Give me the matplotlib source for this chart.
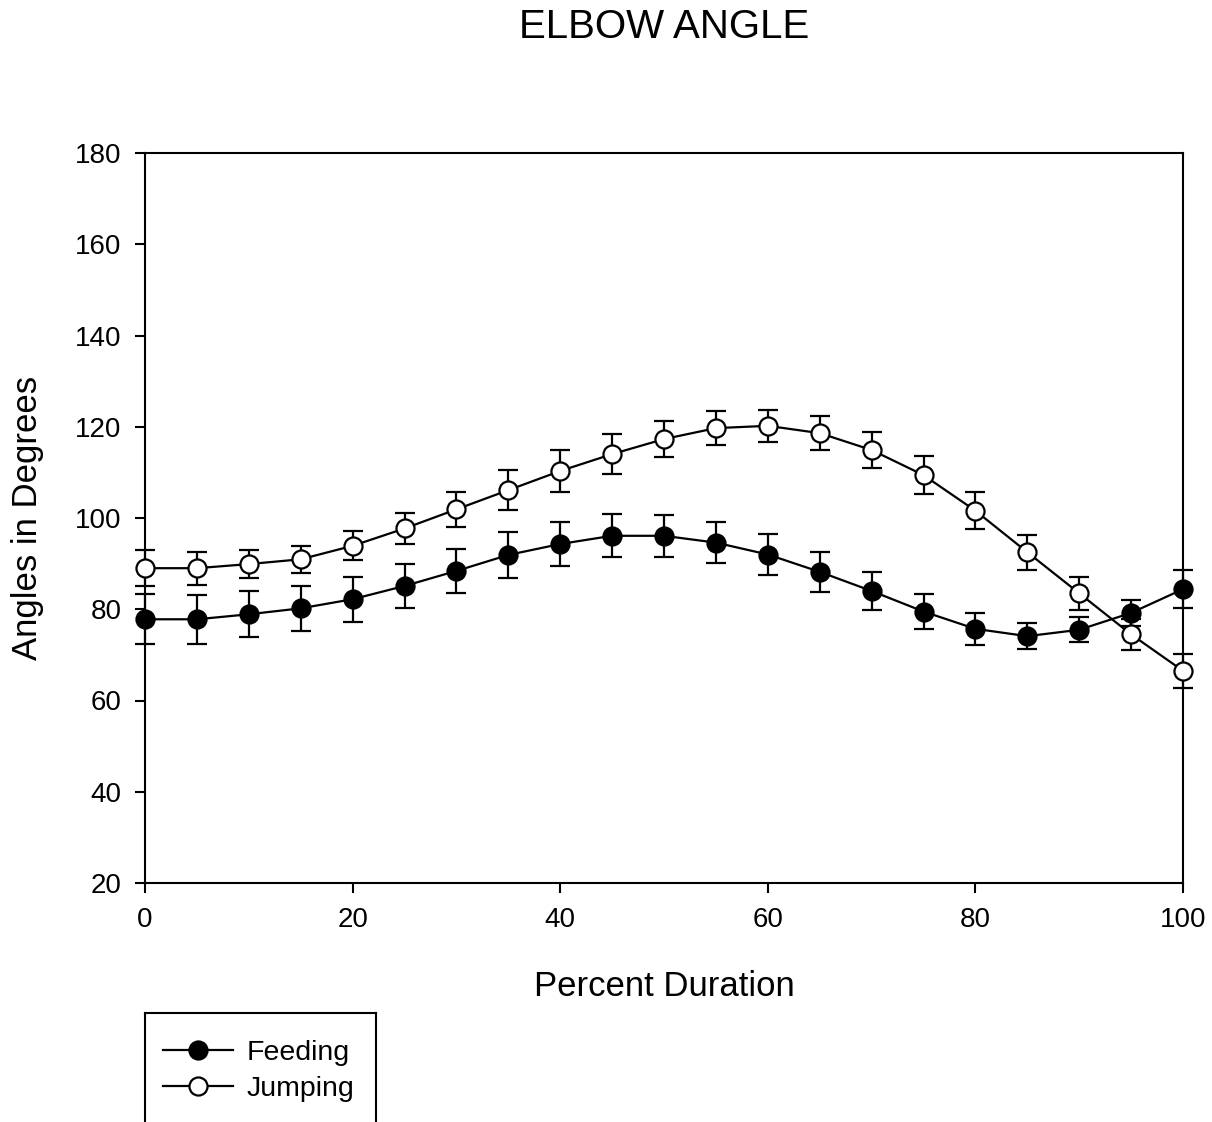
import numpy as np
import matplotlib
matplotlib.use("Agg")
import matplotlib.pyplot as plt
from matplotlib.lines import Line2D

plt.rcParams['font.family'] = ['Liberation Sans', 'DejaVu Sans']

# Percent duration of the movement
pct = [0, 5, 10, 15, 20, 25, 30, 35, 40, 45, 50,
       55, 60, 65, 70, 75, 80, 85, 90, 95, 100]

# Mean elbow angle (degrees) and error (SE)
feeding = [77.8, 77.8, 78.9, 80.2, 82.2, 85.1, 88.4, 91.9, 94.3, 96.1, 96.1,
           94.6, 92.0, 88.2, 84.0, 79.5, 75.7, 74.1, 75.5, 79.2, 84.4]
feeding_err = [5.5, 5.4, 5.0, 4.9, 4.9, 4.9, 4.9, 5.0, 4.9, 4.75, 4.6,
               4.5, 4.5, 4.4, 4.2, 3.8, 3.5, 2.9, 2.7, 2.9, 4.1]

jumping = [89.0, 89.0, 89.9, 90.95, 93.9, 97.7, 101.9, 106.1, 110.3, 114.0, 117.3,
           119.7, 120.2, 118.6, 114.9, 109.4, 101.6, 92.5, 83.5, 74.5, 66.5]
jumping_err = [3.9, 3.65, 3.1, 3.0, 3.2, 3.3, 3.9, 4.4, 4.5, 4.4, 4.0,
               3.7, 3.5, 3.75, 3.9, 4.1, 4.0, 3.8, 3.6, 3.4, 3.7]

x_ticks = [0, 20, 40, 60, 80, 100]
y_ticks = [20, 40, 60, 80, 100, 120, 140, 160, 180]

W, H = 1212, 1122
fig = plt.figure(figsize=(W / 100, H / 100), dpi=100)
# axes box in pixels: left 145, right 1183, top 153, bottom 883
ax = fig.add_axes([145 / W, 1 - 883 / H, (1183 - 145) / W, (883 - 153) / H])

style = dict(color='black', lw=1.6, markersize=13, markeredgewidth=1.6,
             capsize=7, capthick=1.6, elinewidth=1.6, zorder=3)
ax.errorbar(pct, jumping, yerr=jumping_err, marker='o', markerfacecolor='white',
            markeredgecolor='black', label='Jumping', **style)
ax.errorbar(pct, feeding, yerr=feeding_err, marker='o', markerfacecolor='black',
            markeredgecolor='black', label='Feeding', **style)

ax.set_xlim(0, 100)
ax.set_ylim(20, 180)
ax.set_xticks(x_ticks)
ax.set_yticks(y_ticks)
for s in ax.spines.values():
    s.set_linewidth(1.5)
ax.tick_params(axis='both', direction='out', length=7, width=1.5, labelsize=20)
ax.tick_params(axis='y', pad=10)
ax.tick_params(axis='x', pad=10)
for c in ax.get_children():
    if hasattr(c, 'set_clip_on'):
        c.set_clip_on(False)

ax.set_xlabel('Percent Duration', fontsize=25)
ax.xaxis.set_label_coords(0.5, (883 - 987) / 730)
ax.xaxis.label.set_va('center')
ax.set_ylabel('Angles in Degrees', fontsize=25)
ax.yaxis.set_label_coords((28 - 145) / 1038, 0.5)
ax.yaxis.label.set_va('center')

fig.text(664 / W, 1 - 27 / H, 'ELBOW ANGLE', fontsize=29, ha='center', va='center')

# legend (box runs off the bottom of the figure)
handles = [Line2D([], [], color='black', lw=1.6, marker='o', markersize=13,
                  markerfacecolor='black', markeredgewidth=1.6),
           Line2D([], [], color='black', lw=1.6, marker='o', markersize=13,
                  markerfacecolor='white', markeredgewidth=1.6)]
leg = fig.legend(handles, ['Feeding', 'Jumping'], loc='upper left',
                 bbox_to_anchor=(163 / W, 1 - 1040 / H), frameon=False,
                 fontsize=20.5, handlelength=2.45, handletextpad=0.5,
                 labelspacing=0.35, borderaxespad=0, borderpad=0)
for xs, ys in [((145, 145), (1013, H + 5)), ((376, 376), (1013, H + 5)),
               ((145, 376), (1013, 1013))]:
    fig.add_artist(Line2D([x / W for x in xs], [1 - y / H for y in ys],
                          color='black', lw=1.5))

fig.savefig('out.png', dpi=100)
